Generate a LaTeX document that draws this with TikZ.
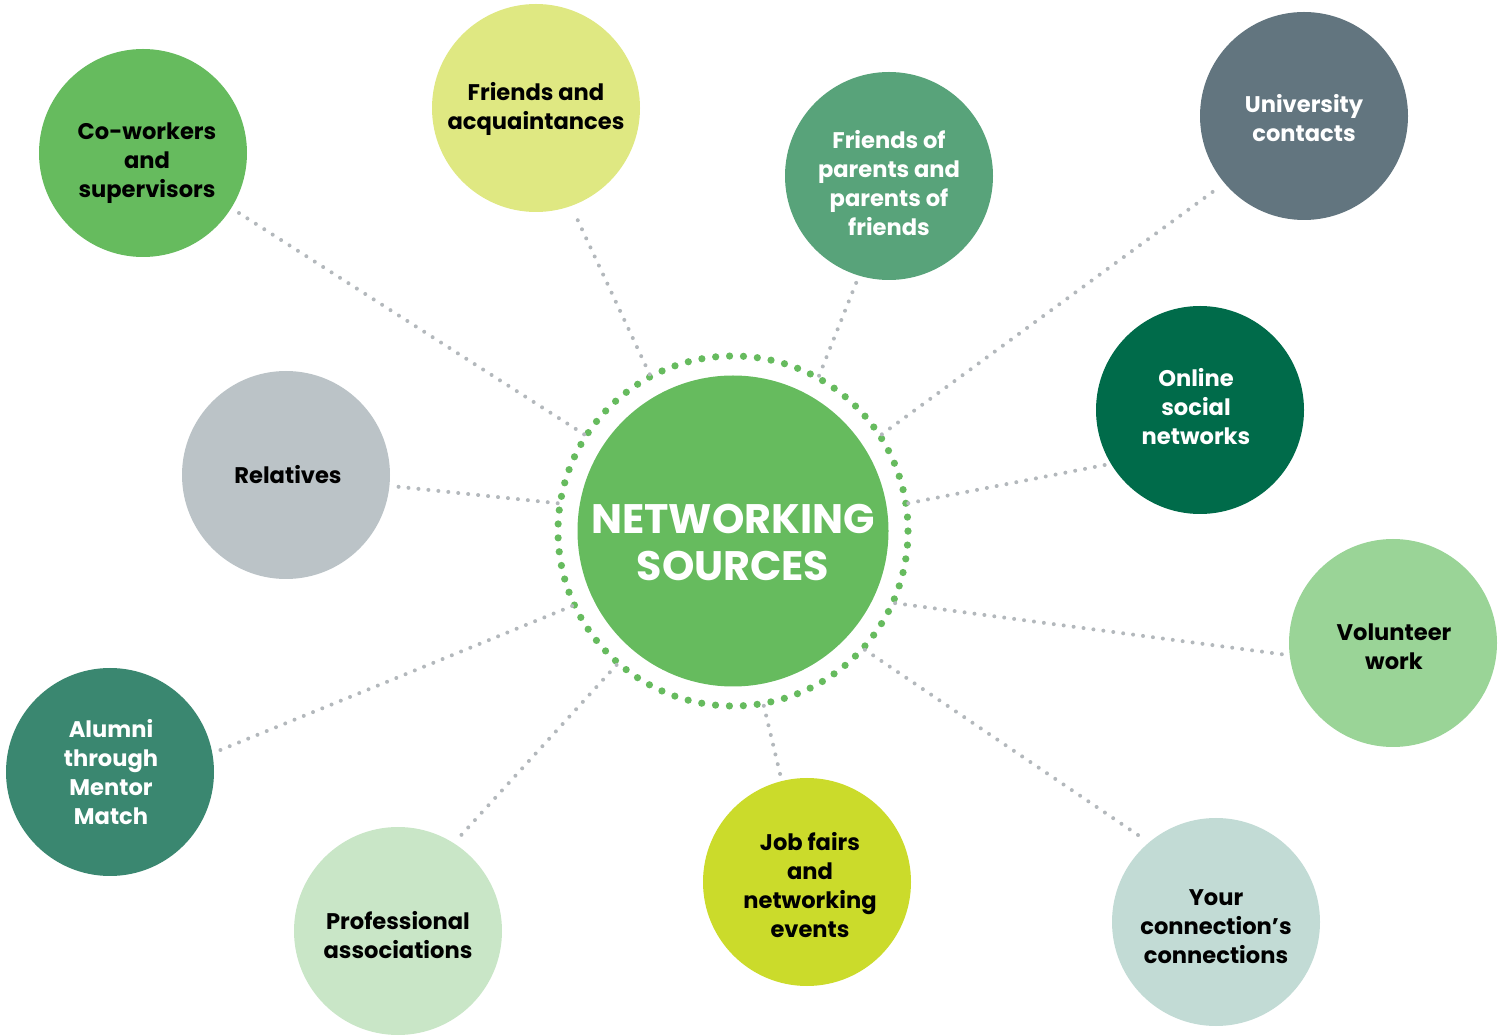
\documentclass[tikz,border=0pt]{standalone}
\usepackage{fontspec}
\setmainfont{Poppins}
\usepackage{tikz}
\usetikzlibrary{positioning}
\definecolor{hubgreen}{HTML}{66BB5E}
\definecolor{linkgray}{HTML}{B3B8BC}
\definecolor{cowgreen}{HTML}{66BB5E}
\definecolor{fralime}{HTML}{DFE882}
\definecolor{fopgreen}{HTML}{58A37A}
\definecolor{unislate}{HTML}{62757F}
\definecolor{onldark}{HTML}{006B4A}
\definecolor{relgray}{HTML}{BBC3C7}
\definecolor{volgreen}{HTML}{9AD497}
\definecolor{alugreen}{HTML}{3A8770}
\definecolor{propale}{HTML}{C9E6C7}
\definecolor{joblime}{HTML}{CBDB2B}
\definecolor{yccpale}{HTML}{C2DBD5}
\tikzset{
  source/.style={circle, minimum size=104pt, inner sep=0pt, outer sep=3pt},
  srctext/.style={align=center, inner sep=0pt,
    font=\bfseries\fontsize{11.3}{14.5}\selectfont},
  hubnode/.style={circle, fill=hubgreen, minimum size=155.5pt, inner sep=0pt,
    outer sep=11pt},
  hubtext/.style={align=center, inner sep=0pt, text=white,
    font=\bfseries\fontsize{20.6}{23.5}\selectfont},
  link/.style={draw=linkgray, line width=2pt, line cap=round,
    dash pattern=on 0pt off 5pt},
  ring/.style={draw=hubgreen, line width=3.6pt, line cap=round,
    dash pattern=on 0pt off 6.959pt}
}
\begin{document}
\begin{tikzpicture}[x=0.5pt, y=-0.5pt]
\useasboundingbox (0,0) rectangle (1505,1036);
\node[hubnode, label={[hubtext, yshift=-5.5pt]center:{NETWORKING\\SOURCES}}] (hub) at (733,531) {};
\draw[ring] (hub.center) circle [radius=87.5pt];
% outer circles
\node[source, fill=cowgreen, label={[srctext, xshift=2pt, yshift=-5pt]center:{Co-workers\\and\\supervisors}}] (cow) at (143,153) {};
\node[source, fill=fralime, label={[srctext, yshift=-0.5pt]center:{Friends and\\acquaintances}}] (fra) at (536,108) {};
\node[source, fill=fopgreen, label={[srctext, text=white, yshift=-3.5pt]center:{Friends of\\parents and\\parents of\\friends}}] (fop) at (889,176) {};
\node[source, fill=unislate, label={[srctext, text=white, yshift=-1pt]center:{University\\contacts}}] (uni) at (1304,116) {};
\node[source, fill=onldark, label={[srctext, text=white, xshift=-2pt, yshift=1.5pt]center:{Online\\social\\networks}}] (onl) at (1200,410) {};
\node[source, fill=relgray, label={[srctext, xshift=1pt]center:{Relatives}}] (rel) at (286,475) {};
\node[source, fill=volgreen, label={[srctext, xshift=0.5pt, yshift=-2pt]center:{Volunteer\\work}}] (vol) at (1393,643) {};
\node[source, fill=alugreen, label={[srctext, text=white, xshift=0.5pt]center:{Alumni\\through\\Mentor\\Match}}] (alu) at (110,772) {};
\node[source, fill=propale, label={[srctext, yshift=-2pt]center:{Professional\\associations}}] (pro) at (398,931) {};
\node[source, fill=joblime, label={[srctext, xshift=1.5pt, yshift=-1.5pt]center:{Job fairs\\and\\networking\\events}}] (job) at (807,882) {};
\node[source, fill=yccpale, label={[srctext, yshift=-2.5pt]center:{Your\\connection’s\\connections}}] (ycc) at (1216,922) {};
% dotted links
\path[link]
(hub.147) edge (cow.328)
(hub.118) edge (fra.290)
(hub.61) edge (fop.253)
(hub.33) edge (uni.220)
(hub.9) edge (onl.210)
(hub.171) edge (rel.-6)
(hub.-24) edge (vol.186)
(hub.205) edge (alu.11)
(hub.229) edge (pro.57)
(hub.280) edge (job.104)
(hub.318) edge (ycc.131)
;
\end{tikzpicture}
\end{document}
